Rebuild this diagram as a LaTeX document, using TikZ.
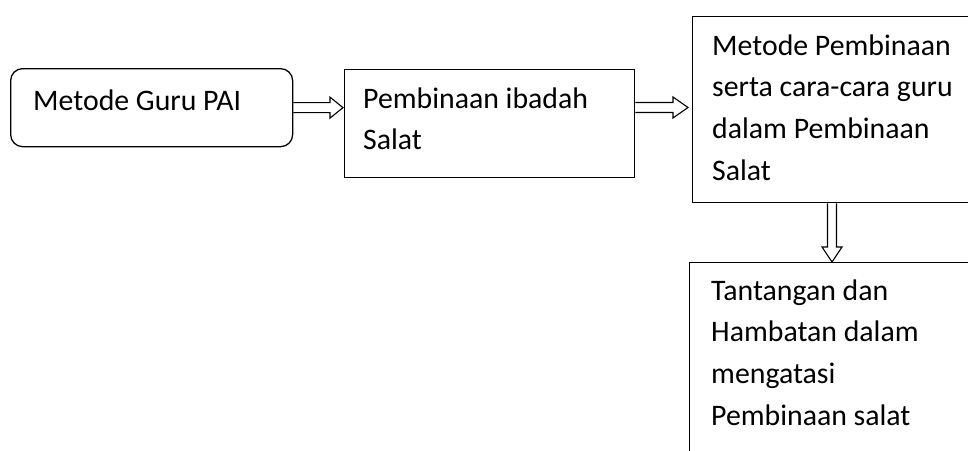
\documentclass[tikz,border=0pt]{standalone}
\usepackage{fontspec}
\setmainfont{Carlito}
\usetikzlibrary{calc}
\newcommand\stk[1]{\vtop{\baselineskip=41.7pt\lineskiplimit=-100pt\relax #1}}
\begin{document}
\begin{tikzpicture}[x=1pt,y=-1pt,
  box/.style={draw, line width=1.3pt, inner sep=0pt, anchor=north west},
  txt/.style={inner sep=0pt, anchor=base west, font=\fontsize{29.8}{41.7}\selectfont},
  barrow/.style={draw, line width=1.1pt, line join=miter}]
\useasboundingbox (0,0) rectangle (968,450);
\clip (0,0) rectangle (968,450);
% boxes
\node[box, minimum width=282pt, minimum height=78pt, rounded corners=12pt] (b1) at (10,68) {};
\node[box, minimum width=290pt, minimum height=108pt] (b2) at (344,69) {};
\node[box, minimum width=320pt, minimum height=186pt] (b3) at (692,16) {};
\node[box, minimum width=320pt, minimum height=230pt] (b4) at (689,262) {};
% texts
\node[txt] (t1) at (33,110) {Metode Guru PAI};
\node[txt] (t2) at (363,108) {\stk{\hbox{Pembinaan ibadah}\hbox{Salat}}};
\node[txt] (t3) at (712,55) {\stk{\hbox{Metode Pembinaan}\hbox{serta cara-cara guru}\hbox{dalam Pembinaan}\hbox{Salat}}};
\node[txt] (t4) at (711,300) {\stk{\hbox{Tantangan dan}\hbox{Hambatan dalam}\hbox{mengatasi}\hbox{Pembinaan salat}}};
% block arrows
\draw[barrow] let \p1=(b1.east), \p2=($(b2.west)+(-1,0)$) in
  (\x1,\y1+5pt) -- (\x2-13pt,\y1+5pt) -- (\x2-13pt,\y1+10.5pt) -- (\x2,\y1)
  -- (\x2-13pt,\y1-10.5pt) -- (\x2-13pt,\y1-5pt) -- (\x1,\y1-5pt);
\draw[barrow] let \p1=($(b2.north east)+(0,38.5)$), \p2=($(b3.west)+(-4,0)$) in
  (\x1,\y1+5pt) -- (\x2-15pt,\y1+5pt) -- (\x2-15pt,\y1+10.5pt) -- (\x2,\y1)
  -- (\x2-15pt,\y1-10.5pt) -- (\x2-15pt,\y1-5pt) -- (\x1,\y1-5pt);
\draw[barrow] let \p1=($(b3.south west)+(140,0)$), \p2=(b4.north) in
  (\x1-4.5pt,\y1) -- (\x1-4.5pt,\y2+15pt) -- (\x1-10pt,\y2+15pt) -- (\x1,\y2)
  -- (\x1+10pt,\y2+15pt) -- (\x1+4.5pt,\y2+15pt) -- (\x1+4.5pt,\y1);
\end{tikzpicture}
\end{document}
